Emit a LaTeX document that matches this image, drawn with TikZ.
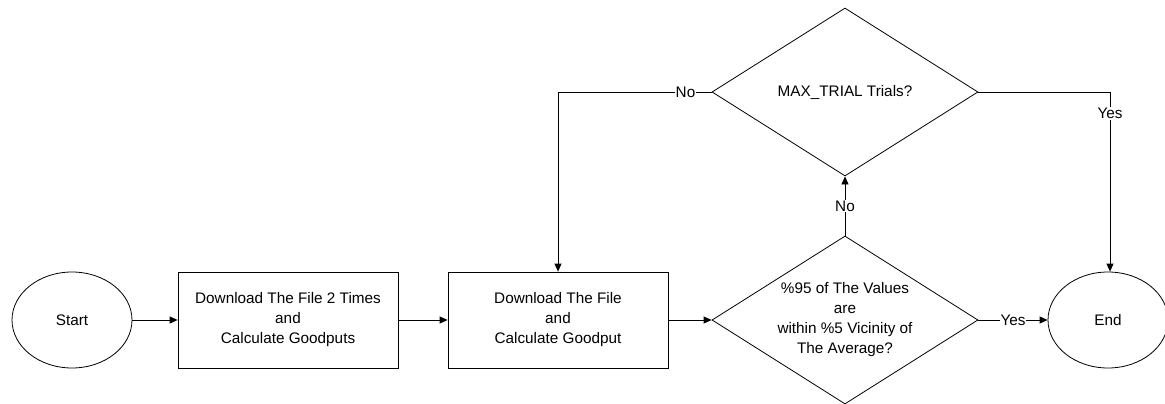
\documentclass[tikz,border=0pt]{standalone}
\usepackage{fontspec}
\setmainfont{Liberation Sans}
\usetikzlibrary{shapes.geometric,arrows.meta}
\begin{document}
\begin{tikzpicture}[x=1pt,y=-1pt,
  every node/.style={font=\fontsize{15.3}{20}\selectfont, text=black},
  oval/.style={draw, ellipse, line width=0.8pt, minimum width=120pt, minimum height=96pt, inner sep=0pt},
  proc/.style={draw, rectangle, line width=0.8pt, minimum width=220pt, minimum height=96pt, align=center, inner sep=0pt},
  decision/.style={draw, diamond, line width=0.8pt, minimum width=266pt, minimum height=168pt, inner sep=0pt, aspect=1.58},
  txt/.style={align=center, inner sep=0pt},
  conn/.style={line width=0.8pt, -{Triangle[length=8pt,width=7pt]}},
  lab/.style={fill=white, inner sep=1pt}
]
\useasboundingbox (0,0) rectangle (1165,404);
\node[oval] (start) at (72,320) {Start};
\node[proc] (b1) at (288,320) {Download The File 2 Times\\and\\Calculate Goodputs};
\node[proc] (b2) at (558,320) {Download The File\\and\\Calculate Goodput};
\node[decision] (d2) at (845,320) {};
\node[txt] (d2t) at (845,320) {\%95 of The Values\\are\\within \%5 Vicinity of\\The Average?};
\node[decision] (d1) at (845,92) {};
\node[txt] (d1t) at (845,92) {MAX\_TRIAL Trials?};
\node[oval] (end) at (1108,320) {End};
\coordinate (c1) at (558,92);
\coordinate (c2) at (1110,92);

\draw[conn] (start) -- (b1);
\draw[conn] (b1) -- (b2);
\draw[conn] (b2) -- (d2.west);
\draw[conn] (d2.east) -- node[lab]{Yes} (end.west);
\draw[conn] (d2.north) -- node[lab]{No} (d1.south);
\draw[conn] (d1.west) -- node[lab, pos=0.17]{No} (c1) -- (b2.north);
\draw[conn] (d1.east) -- (c2) -- node[lab, pos=0.12]{Yes} (end.north -| c2);
\end{tikzpicture}
\end{document}
